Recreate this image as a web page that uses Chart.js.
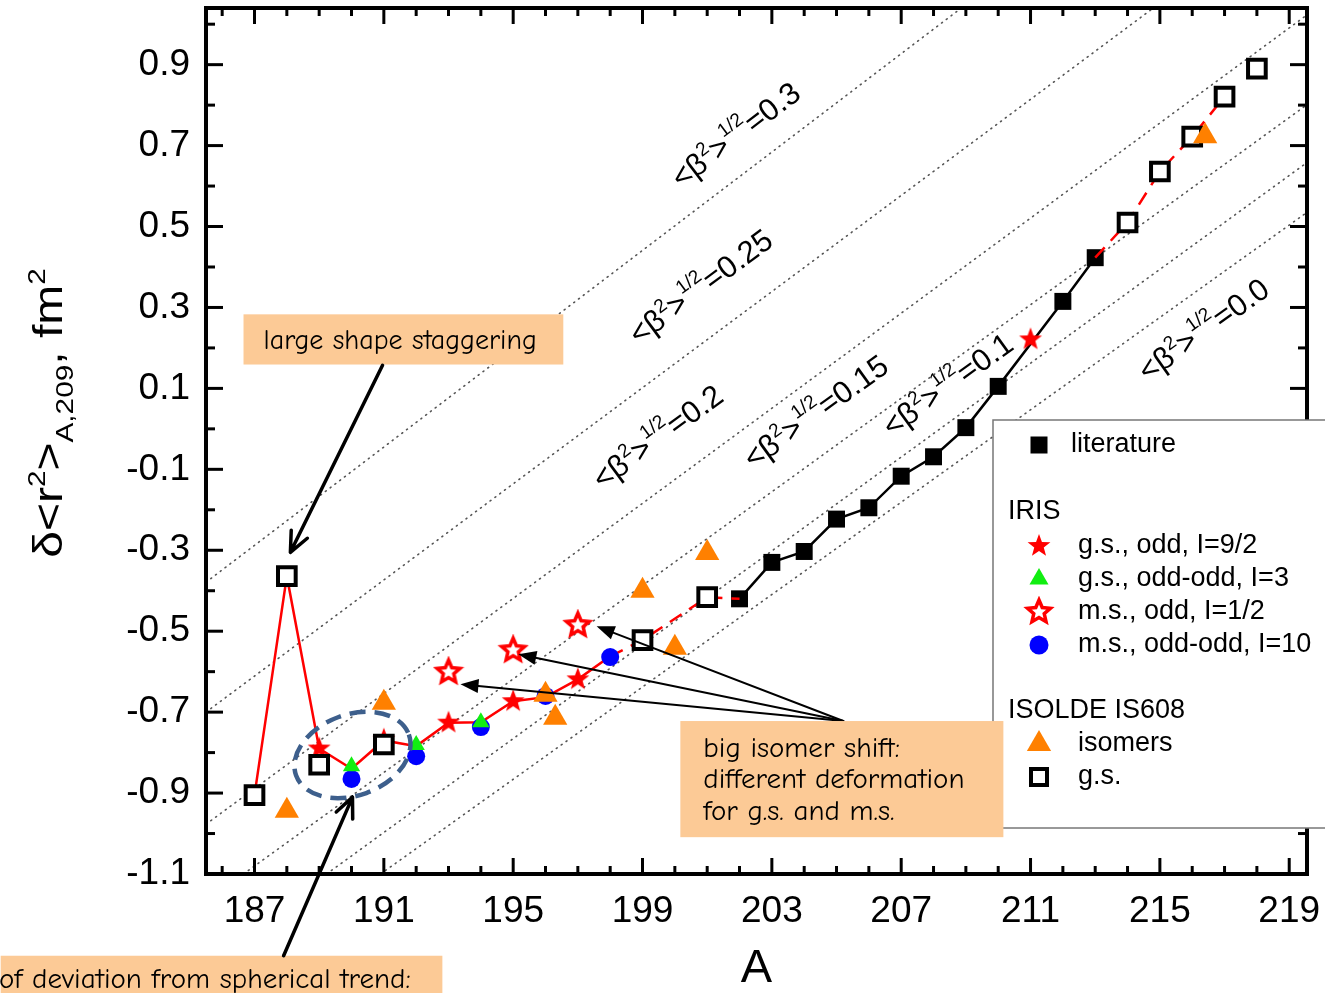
<!DOCTYPE html>
<html>
<head>
<meta charset="utf-8">
<script src="https://cdn.jsdelivr.net/npm/chart.js@4.4.0/dist/chart.umd.min.js"></script>
<style>
  html, body { margin: 0; padding: 0; background: #fff; }
</style>
</head>
<body>
<canvas id="myChart" width="1325" height="993"></canvas>
<script>
// tick labels
const xTicks = [187, 191, 195, 199, 203, 207, 211, 215, 219];
const yTicks = [-1.1, -0.9, -0.7, -0.5, -0.3, -0.1, 0.1, 0.3, 0.5, 0.7, 0.9];

// literature (black filled squares, black line)
const litA = [202, 203, 204, 205, 206, 207, 208, 209, 210, 212, 213];
const litV = [-0.42, -0.33, -0.303, -0.223, -0.195, -0.117, -0.069, 0.003, 0.105, 0.315, 0.423];

// ISOLDE IS608 g.s. (open squares)
const gsA = [187, 188, 189, 191, 199, 201, 214, 215, 216, 217, 218];
const gsV = [-0.905, -0.364, -0.83, -0.78, -0.522, -0.416, 0.51, 0.636, 0.722, 0.821, 0.89];

// ISOLDE IS608 isomers (orange triangles)
const isoA = [188, 191, 196, 196.3, 199, 200, 201, 216.4];
const isoV = [-0.944, -0.677, -0.657, -0.714, -0.4, -0.541, -0.307, 0.723];

// IRIS
const gsOddA = [189, 191, 193, 195, 197, 211];
const gsOddV = [-0.79, -0.768, -0.726, -0.673, -0.619, 0.221];
const gsOddOddA = [190, 192, 194];
const gsOddOddV = [-0.834, -0.781, -0.725];
const msOddA = [193, 195, 197];
const msOddV = [-0.601, -0.547, -0.485];
const msOddOddA = [190, 192, 194, 196, 198];
const msOddOddV = [-0.865, -0.809, -0.737, -0.66, -0.564];

// red connecting lines
const irisLineA = [187, 188, 189, 190, 191, 192, 193, 194, 195, 196, 197, 198];
const irisLineV = [-0.905, -0.364, -0.79, -0.84, -0.77, -0.784, -0.726, -0.725, -0.673, -0.663, -0.619, -0.562];
const dashA1 = [198, 199, 201, 202];
const dashV1 = [-0.562, -0.522, -0.416, -0.42];
const dashA2 = [213, 214, 215, 216, 217];
const dashV2 = [0.423, 0.51, 0.636, 0.722, 0.821];

// iso-deformation lines <beta^2>^1/2
const betaLabels = ['0.3', '0.25', '0.2', '0.15', '0.1', '0.0'];
const betaX0 = [185.5, 185.5, 185.5, 186.66, 189.23, 190.9];
const betaY0 = [-0.379, -0.70, -0.977, -1.1, -1.1, -1.1];
const betaX1 = [208.86, 214.8, 219.55, 219.55, 219.55, 219.55];
const betaY1 = [1.04, 1.04, 1.023, 0.801, 0.658, 0.535];
const betaLabelX = [201.87, 200.79, 199.46, 204.35, 208.43, 216.34];
const betaLabelY = [0.727, 0.352, -0.019, 0.043, 0.110, 0.246];

const sans = '"Liberation Sans", Arial, sans-serif';
const comic = '"Comic Sans MS", "Comic Neue", Lato, sans-serif';
const peach = '#fcca96';
const orange = '#ff8000';
const green = '#11ee11';

const pts = (xs, ys) => xs.map((v, i) => ({ x: v, y: ys[i] }));

function makeStar(outer, inner, fill, stroke, lw) {
  const s = Math.ceil(2 * outer + (lw || 0) + 4);
  const c = document.createElement('canvas');
  c.width = s; c.height = s;
  const g = c.getContext('2d');
  g.beginPath();
  for (let i = 0; i < 10; i++) {
    const r = i % 2 ? inner : outer;
    const a = -Math.PI / 2 + i * Math.PI / 5;
    g.lineTo(s / 2 + r * Math.cos(a), s / 2 + r * Math.sin(a));
  }
  g.closePath();
  if (fill) { g.fillStyle = fill; g.fill(); }
  if (stroke) { g.lineWidth = lw; g.strokeStyle = stroke; g.stroke(); }
  return c;
}
const starFilled = makeStar(12, 5, '#ff0000');
const starOpen = makeStar(12, 5.5, '#ffffff', '#ff0000', 3.5);

function richText(ctx, parts, x, y, ang, size, sx) {
  ctx.save();
  ctx.translate(x, y);
  ctx.rotate(ang);
  ctx.scale(sx || 1, 1);
  ctx.fillStyle = '#000';
  ctx.textAlign = 'left';
  ctx.textBaseline = 'alphabetic';
  let w = 0;
  const ws = parts.map(p => {
    ctx.font = (size * p[1]) + 'px ' + sans;
    const m = ctx.measureText(p[0]).width;
    w += m;
    return m;
  });
  let cx = -w / 2;
  parts.forEach((p, i) => {
    ctx.font = (size * p[1]) + 'px ' + sans;
    ctx.fillText(p[0], cx, p[2] * size + size * 0.35);
    cx += ws[i];
  });
  ctx.restore();
}

const betaText = {
  id: 'betaText',
  beforeDatasetsDraw(chart) {
    const { ctx, scales: { x, y } } = chart;
    betaLabels.forEach((lab, i) => {
      const ang = Math.atan2(y.getPixelForValue(betaY1[i]) - y.getPixelForValue(betaY0[i]),
                             x.getPixelForValue(betaX1[i]) - x.getPixelForValue(betaX0[i]));
      richText(ctx, [['<\u03B2', 1, 0], ['2', 0.62, -0.42], ['>', 1, 0], ['1/2', 0.62, -0.5], ['=' + lab, 1, 0]],
        x.getPixelForValue(betaLabelX[i]), y.getPixelForValue(betaLabelY[i]), ang, 31);
    });
    // y axis title
    richText(ctx, [['\u03B4<r', 1, 0], ['2', 0.62, -0.42], ['>', 1, 0], ['A,209', 0.62, 0.28], [', fm', 1, 0], ['2', 0.62, -0.42]],
      48, (chart.chartArea.top + chart.chartArea.bottom) / 2 - 28, -Math.PI / 2, 40, 1.2);
  }
};

const frameTicks = {
  id: 'frameTicks',
  afterDatasetsDraw(chart) {
    const { ctx, chartArea: a, scales: { x, y } } = chart;
    const seg = (x0, y0, x1, y1) => { ctx.beginPath(); ctx.moveTo(x0, y0); ctx.lineTo(x1, y1); ctx.stroke(); };
    ctx.save();
    ctx.strokeStyle = '#000';
    ctx.lineWidth = 3;
    for (let v = 186; v <= 219; v++) {
      const px = x.getPixelForValue(v);
      const len = (v - 187) % 4 === 0 ? 16 : 8;
      seg(px, a.bottom, px, a.bottom - len);
      seg(px, a.top, px, a.top + len);
    }
    for (let k = -10; k <= 10; k++) {
      const py = y.getPixelForValue(k / 10);
      const len = Math.abs(k) % 2 === 1 ? 17 : 9;
      seg(a.left, py, a.left + len, py);
      seg(a.right, py, a.right - len, py);
    }
    ctx.lineWidth = 4;
    ctx.strokeRect(a.left, a.top, a.right - a.left, a.bottom - a.top);
    ctx.restore();
  }
};

function drawMarker(ctx, kind, cx, cy) {
  ctx.save();
  if (kind === 'lit') {
    ctx.fillStyle = '#000';
    ctx.fillRect(cx - 8.5, cy - 8.5, 17, 17);
  } else if (kind === 'star') {
    ctx.drawImage(starFilled, cx - starFilled.width / 2, cy - starFilled.height / 2);
  } else if (kind === 'ostar') {
    ctx.drawImage(starOpen, cx - starOpen.width / 2, cy - starOpen.height / 2);
  } else if (kind === 'green' || kind === 'orange') {
    const r = kind === 'green' ? 11 : 14;
    ctx.fillStyle = kind === 'green' ? green : orange;
    ctx.beginPath();
    ctx.moveTo(cx, cy - r);
    ctx.lineTo(cx + r * 0.866, cy + r / 2);
    ctx.lineTo(cx - r * 0.866, cy + r / 2);
    ctx.closePath();
    ctx.fill();
  } else if (kind === 'blue') {
    ctx.fillStyle = '#0000ff';
    ctx.beginPath(); ctx.arc(cx, cy, 9.5, 0, Math.PI * 2); ctx.fill();
  } else if (kind === 'osq') {
    ctx.fillStyle = '#fff'; ctx.strokeStyle = '#000'; ctx.lineWidth = 4;
    ctx.fillRect(cx - 8, cy - 8, 16, 16);
    ctx.strokeRect(cx - 8, cy - 8, 16, 16);
  }
  ctx.restore();
}

const legendRows = [
  { y: 445, kind: 'lit', text: 'literature', tx: 1071 },
  { y: 512, head: 'IRIS' },
  { y: 546, kind: 'star', text: 'g.s., odd, I=9/2' },
  { y: 579, kind: 'green', text: 'g.s., odd-odd, I=3' },
  { y: 612, kind: 'ostar', text: 'm.s., odd, I=1/2' },
  { y: 645, kind: 'blue', text: 'm.s., odd-odd, I=10' },
  { y: 711, head: 'ISOLDE IS608' },
  { y: 744, kind: 'orange', text: 'isomers' },
  { y: 777, kind: 'osq', text: 'g.s.' }
];

const ann1Text = 'large shape staggering';
const ann2Text = ['big isomer shift:', 'different deformation', 'for g.s. and m.s.'];
const ann3Text = 'of deviation from spherical trend:';

const overlay = {
  id: 'overlay',
  afterDraw(chart) {
    const { ctx, scales: { x, y } } = chart;
    const X = v => x.getPixelForValue(v), Y = v => y.getPixelForValue(v);
    ctx.save();

    // legend
    ctx.fillStyle = '#fff';
    ctx.fillRect(993, 420, 345, 408);
    ctx.strokeStyle = '#777';
    ctx.lineWidth = 1.5;
    ctx.strokeRect(993, 420, 345, 408);
    ctx.fillStyle = '#000';
    ctx.textBaseline = 'middle';
    ctx.textAlign = 'left';
    ctx.font = '27px ' + sans;
    legendRows.forEach(r => {
      ctx.fillStyle = '#000';
      if (r.head) {
        ctx.fillText(r.head, 1008, r.y);
      } else {
        drawMarker(ctx, r.kind, 1039, r.y);
        ctx.fillStyle = '#000';
        ctx.fillText(r.text, r.tx || 1078, r.y);
      }
    });

    const box = (x0, y0, x1, y1) => {
      ctx.fillStyle = peach;
      ctx.fillRect(X(x0), Y(y0), X(x1) - X(x0), Y(y1) - Y(y0));
    };
    const arrowV = (x0, y0, x1, y1) => {
      const ax = X(x0), ay = Y(y0), bx = X(x1), by = Y(y1);
      const ang = Math.atan2(by - ay, bx - ax);
      ctx.strokeStyle = '#000'; ctx.lineWidth = 3.5; ctx.lineCap = 'round';
      ctx.beginPath(); ctx.moveTo(ax, ay); ctx.lineTo(bx, by);
      [-1, 1].forEach(s => {
        ctx.moveTo(bx, by);
        ctx.lineTo(bx - 22 * Math.cos(ang + s * 0.42), by - 22 * Math.sin(ang + s * 0.42));
      });
      ctx.stroke();
    };
    const arrowF = (x0, y0, x1, y1) => {
      const ax = X(x0), ay = Y(y0), bx = X(x1), by = Y(y1);
      const ang = Math.atan2(by - ay, bx - ax);
      const c = Math.cos(ang), s = Math.sin(ang);
      ctx.strokeStyle = '#000'; ctx.lineWidth = 2;
      ctx.beginPath(); ctx.moveTo(ax, ay); ctx.lineTo(bx - 10 * c, by - 10 * s); ctx.stroke();
      ctx.fillStyle = '#000';
      ctx.beginPath();
      ctx.moveTo(bx, by);
      ctx.lineTo(bx - 18 * c - 7 * s, by - 18 * s + 7 * c);
      ctx.lineTo(bx - 18 * c + 7 * s, by - 18 * s - 7 * c);
      ctx.closePath(); ctx.fill();
    };

    // dashed ellipse round the A=189-191 points
    ctx.strokeStyle = '#3d5f8c';
    ctx.lineWidth = 4.5;
    ctx.setLineDash([16, 9]);
    ctx.beginPath();
    ctx.ellipse(X(190.03), Y(-0.806), 1.855 * (X(1) - X(0)), 0.1 * (Y(0) - Y(1)), -20 * Math.PI / 180, 0, Math.PI * 2);
    ctx.stroke();
    ctx.setLineDash([]);

    // annotation 1
    box(186.66, 0.283, 196.55, 0.159);
    ctx.fillStyle = '#000'; ctx.font = '28px ' + comic; ctx.textBaseline = 'middle';
    ctx.fillText(ann1Text, X(187.28), Y(0.218));
    arrowV(190.96, 0.157, 188.11, -0.305);

    // annotation 2
    [[197.58, -0.488], [195.16, -0.557], [193.37, -0.631]].forEach(t => arrowF(205.21, -0.722, t[0], t[1]));
    box(200.17, -0.722, 210.16, -1.009);
    ctx.fillStyle = '#000'; ctx.font = '29px ' + comic;
    [-0.791, -0.868, -0.947].forEach((v, i) => ctx.fillText(ann2Text[i], X(200.88), Y(v)));

    // annotation 3
    box(179.15, -1.302, 192.81, -1.4);
    ctx.fillStyle = '#000'; ctx.font = '29px ' + comic;
    ctx.fillText(ann3Text, X(179.1), Y(-1.362));
    arrowV(187.9, -1.302, 190.03, -0.91);

    ctx.restore();
  }
};

const lineDs = (label, xs, ys, color, width, dash, order) => ({
  label, data: pts(xs, ys), showLine: true, pointRadius: 0, borderColor: color,
  borderWidth: width, borderDash: dash, fill: false, order
});

const datasets = [
  { label: 'ISOLDE isomers', data: pts(isoA, isoV), pointStyle: 'triangle', pointRadius: 14,
    backgroundColor: orange, borderWidth: 0, order: 1 },
  { label: 'ISOLDE g.s.', data: pts(gsA, gsV), pointStyle: 'rect', pointRadius: 12.5,
    backgroundColor: '#fff', borderColor: '#000', borderWidth: 4, order: 2 },
  { label: 'm.s., odd, I=1/2', data: pts(msOddA, msOddV), pointStyle: starOpen, order: 3 },
  { label: 'g.s., odd, I=9/2', data: pts(gsOddA, gsOddV), pointStyle: starFilled, order: 4 },
  { label: 'g.s., odd-odd, I=3', data: pts(gsOddOddA, gsOddOddV), pointStyle: 'triangle', pointRadius: 10,
    backgroundColor: green, borderWidth: 0, order: 5 },
  { label: 'm.s., odd-odd, I=10', data: pts(msOddOddA, msOddOddV), pointStyle: 'circle', pointRadius: 9,
    backgroundColor: '#0000ff', borderWidth: 0, order: 6 },
  lineDs('red dashed 1', dashA1, dashV1, '#ff0000', 2.5, [14, 9], 7),
  lineDs('red dashed 2', dashA2, dashV2, '#ff0000', 2.5, [14, 9], 8),
  { label: 'literature', data: pts(litA, litV), pointStyle: 'rect', pointRadius: 12,
    backgroundColor: '#000', borderWidth: 0, order: 9 },
  lineDs('literature line', litA, litV, '#000', 2.5, [], 10),
  lineDs('IRIS line', irisLineA, irisLineV, '#ff0000', 2.5, [], 11)
];
betaLabels.forEach((lab, i) => {
  const d = lineDs('beta ' + lab, [betaX0[i], betaX1[i]], [betaY0[i], betaY1[i]], '#555', 1.6, [1, 5], 12 + i);
  d.borderCapStyle = 'round';
  datasets.push(d);
});

const ctx = document.getElementById('myChart').getContext('2d');
const myChart = new Chart(ctx, {
  type: 'scatter',
  data: { datasets },
  options: {
    responsive: false,
    animation: false,
    devicePixelRatio: 1,
    layout: { autoPadding: false, padding: { top: 8, right: 18, left: 0, bottom: 0 } },
    plugins: { legend: { display: false }, tooltip: { enabled: false } },
    scales: {
      x: {
        type: 'linear', min: 185.5, max: 219.55,
        afterBuildTicks: s => { s.ticks = xTicks.map(v => ({ value: v })); },
        afterFit: s => { s.height = 119; s.paddingLeft = 0; s.paddingRight = 0; },
        grid: { display: false, drawTicks: false },
        border: { display: false },
        ticks: {
          color: '#000', padding: 16, maxRotation: 0, autoSkip: false,
          font: { size: 37, family: sans },
          callback: v => String(v)
        },
        title: { display: true, text: 'A', color: '#000', padding: 0, font: { size: 47, family: sans, lineHeight: 1 } }
      },
      y: {
        type: 'linear', min: -1.1, max: 1.04,
        afterBuildTicks: s => { s.ticks = yTicks.map(v => ({ value: v })); },
        afterFit: s => { s.width = 206; s.paddingTop = 0; s.paddingBottom = 0; },
        grid: { display: false, drawTicks: false },
        border: { display: false },
        ticks: {
          color: '#000', padding: 16, autoSkip: false,
          font: { size: 37, family: sans },
          callback: v => v.toFixed(1)
        }
      }
    }
  },
  plugins: [betaText, frameTicks, overlay]
});
</script>
</body>
</html>
